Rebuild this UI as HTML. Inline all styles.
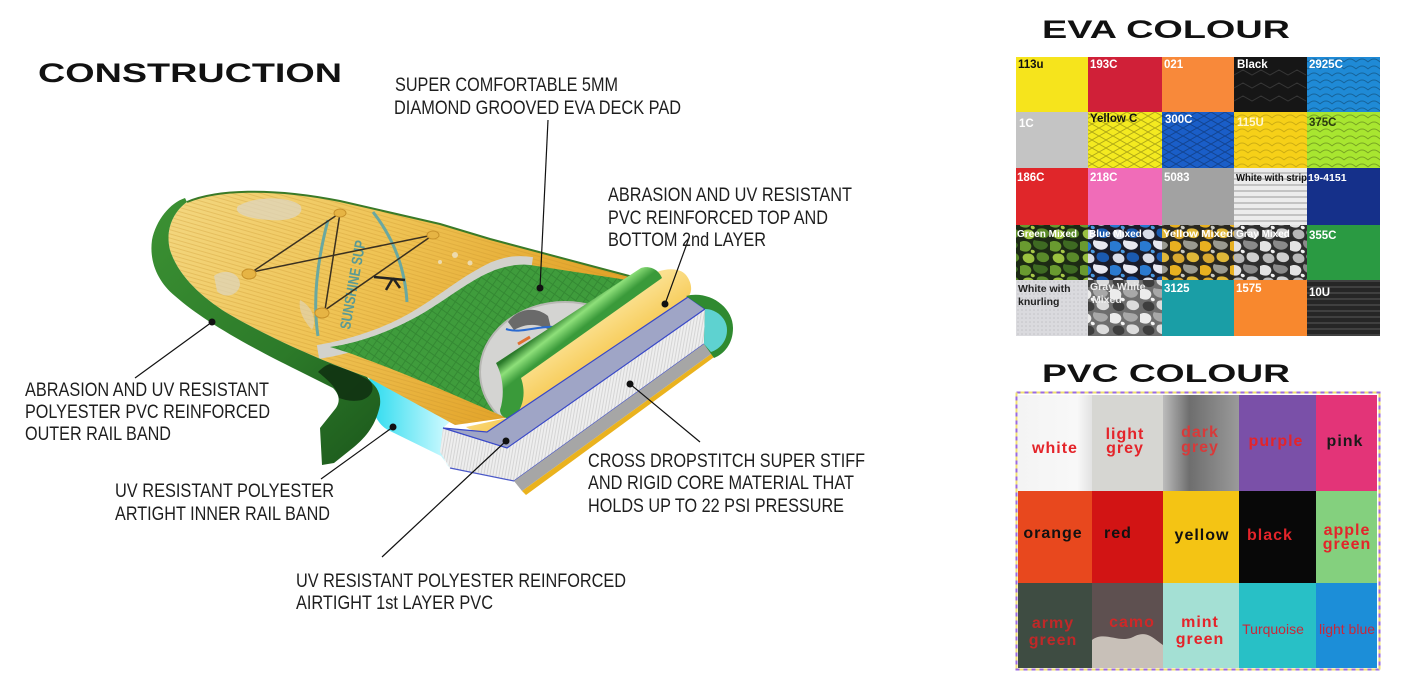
<!DOCTYPE html>
<html><head><meta charset="utf-8"><style>
html,body{margin:0;padding:0;background:#fff;}
svg{display:block;}
.l{font-family:"Liberation Sans Narrow","Liberation Sans",Arial,sans-serif;font-size:19px;fill:#1e1e1e;}
.h{font-family:"Liberation Sans",Arial,sans-serif;font-weight:bold;fill:#111;}
.e{font-family:"Liberation Sans",Arial,sans-serif;font-weight:bold;font-size:11.5px;fill:#fff;}
.p{font-family:"Liberation Sans",Arial,sans-serif;font-weight:bold;font-size:16px;fill:#e4242a;letter-spacing:1px;text-anchor:middle;}
.q{font-family:"Liberation Sans",Arial,sans-serif;font-size:14px;fill:#c8283a;text-anchor:middle;}
</style></head><body>
<svg width="1427" height="693" viewBox="0 0 1427 693" xmlns="http://www.w3.org/2000/svg">
<defs>
 <linearGradient id="deckG" x1="180" y1="200" x2="500" y2="420" gradientUnits="userSpaceOnUse">
  <stop offset="0" stop-color="#f3d67e"/><stop offset="0.5" stop-color="#efc354"/><stop offset="1" stop-color="#e3a42a"/>
 </linearGradient>
 <pattern id="deckL" width="300" height="4" patternUnits="userSpaceOnUse" patternTransform="rotate(16)">
  <line x1="0" y1="2" x2="300" y2="2" stroke="#c8922a" stroke-opacity="0.3" stroke-width="1"/>
 </pattern>
 <linearGradient id="railG" x1="160" y1="220" x2="370" y2="440" gradientUnits="userSpaceOnUse">
  <stop offset="0" stop-color="#3a8f32"/><stop offset="0.6" stop-color="#2c7a29"/><stop offset="1" stop-color="#1f5e1e"/>
 </linearGradient>
 <linearGradient id="cyanG" x1="372" y1="0" x2="450" y2="0" gradientUnits="userSpaceOnUse">
  <stop offset="0" stop-color="#30dcef"/><stop offset="1" stop-color="#d2faff"/>
 </linearGradient>
 <pattern id="padP" width="7" height="7" patternUnits="userSpaceOnUse" patternTransform="rotate(35)">
  <rect width="7" height="7" fill="none" stroke="#2c7a2c" stroke-opacity="0.55" stroke-width="1"/>
 </pattern>
 <clipPath id="padClip">
  <path d="M330,347 C360,343 395,330 425,312 C450,297 470,280 495,270 C510,265 520,264 530,265 L640,282 L650,276 L500,362 C506,378 510,398 507,418 C470,402 410,375 360,357 C350,353 340,350 330,347 Z"/>
 </clipPath>
 <linearGradient id="rollG" x1="566" y1="312" x2="580" y2="330" gradientUnits="userSpaceOnUse">
  <stop offset="0" stop-color="#2a7a2a"/><stop offset="0.45" stop-color="#8ee07a"/><stop offset="1" stop-color="#3a9a3a"/>
 </linearGradient>
 <linearGradient id="yelG" x1="580" y1="330" x2="600" y2="360" gradientUnits="userSpaceOnUse">
  <stop offset="0" stop-color="#fbe08e"/><stop offset="1" stop-color="#f7cc5a"/>
 </linearGradient>
 <pattern id="coreP" width="3" height="10" patternUnits="userSpaceOnUse" patternTransform="rotate(10)">
  <rect width="3" height="10" fill="#eeeeee"/><line x1="1" y1="0" x2="1" y2="10" stroke="#cfcfcf" stroke-width="0.8"/>
 </pattern>
 <pattern id="dia" width="14" height="8" patternUnits="userSpaceOnUse">
  <path d="M0,4 L7,0 L14,4 L7,8 Z" fill="none" stroke="#000" stroke-opacity="0.28" stroke-width="1"/>
 </pattern>
 <pattern id="wav" width="12" height="7" patternUnits="userSpaceOnUse">
  <path d="M0,6 Q6,0 12,6" fill="none" stroke="#000" stroke-opacity="0.28" stroke-width="1"/>
 </pattern>
 <pattern id="strip" width="10" height="6" patternUnits="userSpaceOnUse">
  <rect width="10" height="6" fill="#ececec"/><line x1="0" y1="5" x2="10" y2="5" stroke="#9a9a9a" stroke-width="1"/>
 </pattern>
 <pattern id="u10" width="10" height="6" patternUnits="userSpaceOnUse">
  <rect width="10" height="6" fill="#262626"/><line x1="0" y1="5" x2="10" y2="5" stroke="#505050" stroke-width="1.2"/>
 </pattern>
 <pattern id="knurl" width="4" height="4" patternUnits="userSpaceOnUse">
  <rect width="4" height="4" fill="#dadade"/><circle cx="2" cy="2" r="0.8" fill="#c4c4c8"/>
 </pattern>
 <pattern id="camoG" width="30" height="24" patternUnits="userSpaceOnUse">
  <rect width="30" height="24" fill="#1c2a14"/>
  <path d="M0,2 C6,-1 13,3 11,8 C9,13 3,12 0,10 Z" fill="#6a9a30"/>
  <path d="M14,0 C20,2 26,0 28,5 C27,10 20,11 16,8 C13,6 12,2 14,0 Z" fill="#3e6a22"/>
  <path d="M5,14 C11,12 16,16 14,21 C11,25 4,23 3,19 C2,17 3,15 5,14 Z" fill="#9ac040"/>
  <path d="M18,13 C24,11 30,14 29,19 C27,23 21,23 18,20 C16,18 16,15 18,13 Z" fill="#5a8a2a"/>
  <path d="M11,10 C14,9 16,12 14,13 C12,14 10,12 11,10 Z" fill="#a8c848"/>
 </pattern>
 <pattern id="camoB" width="30" height="24" patternUnits="userSpaceOnUse">
  <rect width="30" height="24" fill="#1a1c2a"/>
  <path d="M0,2 C6,-1 13,3 11,8 C9,13 3,12 0,10 Z" fill="#2a7ad0"/>
  <path d="M14,0 C20,2 26,0 28,5 C27,10 20,11 16,8 C13,6 12,2 14,0 Z" fill="#e8e8f0"/>
  <path d="M5,14 C11,12 16,16 14,21 C11,25 4,23 3,19 C2,17 3,15 5,14 Z" fill="#d8dce8"/>
  <path d="M18,13 C24,11 30,14 29,19 C27,23 21,23 18,20 C16,18 16,15 18,13 Z" fill="#1a5ab0"/>
  <path d="M11,10 C14,9 16,12 14,13 C12,14 10,12 11,10 Z" fill="#4a9ae0"/>
 </pattern>
 <pattern id="camoY" width="30" height="24" patternUnits="userSpaceOnUse">
  <rect width="30" height="24" fill="#2a2820"/>
  <path d="M0,2 C6,-1 13,3 11,8 C9,13 3,12 0,10 Z" fill="#e8b020"/>
  <path d="M14,0 C20,2 26,0 28,5 C27,10 20,11 16,8 C13,6 12,2 14,0 Z" fill="#9a9a90"/>
  <path d="M5,14 C11,12 16,16 14,21 C11,25 4,23 3,19 C2,17 3,15 5,14 Z" fill="#d8a830"/>
  <path d="M18,13 C24,11 30,14 29,19 C27,23 21,23 18,20 C16,18 16,15 18,13 Z" fill="#e0b838"/>
  <path d="M11,10 C14,9 16,12 14,13 C12,14 10,12 11,10 Z" fill="#c8c8c0"/>
 </pattern>
 <pattern id="camoK" width="30" height="24" patternUnits="userSpaceOnUse">
  <rect width="30" height="24" fill="#2e2e2e"/>
  <path d="M0,2 C6,-1 13,3 11,8 C9,13 3,12 0,10 Z" fill="#e2e2e2"/>
  <path d="M14,0 C20,2 26,0 28,5 C27,10 20,11 16,8 C13,6 12,2 14,0 Z" fill="#8a8a8a"/>
  <path d="M5,14 C11,12 16,16 14,21 C11,25 4,23 3,19 C2,17 3,15 5,14 Z" fill="#b8b8b8"/>
  <path d="M18,13 C24,11 30,14 29,19 C27,23 21,23 18,20 C16,18 16,15 18,13 Z" fill="#d0d0d0"/>
  <path d="M11,10 C14,9 16,12 14,13 C12,14 10,12 11,10 Z" fill="#f0f0f0"/>
 </pattern>
 <pattern id="camoW" width="30" height="24" patternUnits="userSpaceOnUse">
  <rect width="30" height="24" fill="#6e6e6e"/>
  <path d="M0,2 C6,-1 13,3 11,8 C9,13 3,12 0,10 Z" fill="#ececec"/>
  <path d="M14,0 C20,2 26,0 28,5 C27,10 20,11 16,8 C13,6 12,2 14,0 Z" fill="#a8a8a8"/>
  <path d="M5,14 C11,12 16,16 14,21 C11,25 4,23 3,19 C2,17 3,15 5,14 Z" fill="#3e3e3e"/>
  <path d="M18,13 C24,11 30,14 29,19 C27,23 21,23 18,20 C16,18 16,15 18,13 Z" fill="#dcdcdc"/>
  <path d="M11,10 C14,9 16,12 14,13 C12,14 10,12 11,10 Z" fill="#f4f4f4"/>
 </pattern>
 <linearGradient id="pW" x1="0" x2="1"><stop offset="0" stop-color="#f4f4f4"/><stop offset="0.8" stop-color="#f8f8f8"/><stop offset="1" stop-color="#e2e2e2"/></linearGradient>
 <linearGradient id="pDG" x1="0" x2="1"><stop offset="0" stop-color="#bcbcbc"/><stop offset="0.35" stop-color="#6e6e6e"/><stop offset="1" stop-color="#9a9a9a"/></linearGradient>
</defs>

<rect width="1427" height="693" fill="#fff"/>

<text class="h" x="38" y="82" font-size="27" textLength="304" lengthAdjust="spacingAndGlyphs">CONSTRUCTION</text>
<text class="h" x="1042" y="38" font-size="25" textLength="248" lengthAdjust="spacingAndGlyphs">EVA COLOUR</text>
<text class="h" x="1042" y="382" font-size="25" textLength="248" lengthAdjust="spacingAndGlyphs">PVC COLOUR</text>

<!-- ===== BOARD ===== -->
<path d="M370,372 L452,420 L443,428 C440,442 442,462 450,468 L441,456 L388,430 C374,423 366,398 370,372 Z" fill="url(#cyanG)"/>
<path d="M187,202 C215,190 270,187 340,201 L440,224 L490,239 L633,277 L650,283 L520,378 L505,418 L455,425 L367,377 C330,364 273,340 227,313 C200,296 178,275 170,250 C165,230 173,212 187,202 Z" fill="url(#deckG)"/>
<path d="M187,202 C215,190 270,187 340,201 L440,224 L490,239 L633,277 L650,283 L520,378 L505,418 L455,425 L367,377 C330,364 273,340 227,313 C200,296 178,275 170,250 C165,230 173,212 187,202 Z" fill="url(#deckL)"/>
<path d="M187,202 C215,190 270,187 340,201 L440,224 L490,239 L633,277" fill="none" stroke="#3a7a28" stroke-width="2"/>
<path d="M238,206 C255,196 288,196 300,205 C306,214 292,222 270,220 C250,219 232,214 238,206 Z" fill="#ddd6c0" opacity="0.75"/>
<path d="M214,276 C224,268 240,272 240,285 C238,296 224,299 217,291 Z" fill="#ddd6c0" opacity="0.7"/>
<path d="M300,300 C310,305 318,318 312,330 C305,322 298,312 300,300 Z" fill="#ddd6c0" opacity="0.6"/>
<circle cx="455" cy="255" r="3" fill="#eee3c8" opacity="0.8"/>
<circle cx="470" cy="263" r="2.5" fill="#eee3c8" opacity="0.8"/>
<circle cx="440" cy="262" r="2" fill="#eee3c8" opacity="0.8"/>
<path d="M328,220 C318,258 312,298 318,336" fill="none" stroke="#6aa8a0" stroke-width="3"/>
<path d="M373,212 C395,240 405,270 407,302" fill="none" stroke="#6aa8a0" stroke-width="3"/>
<text x="0" y="0" transform="translate(350,330) rotate(-80)" font-family="'Liberation Sans',Arial,sans-serif" font-weight="bold" font-size="15" fill="#5a9a94" textLength="90" lengthAdjust="spacingAndGlyphs">SUNSHINE SUP</text>
<g stroke="#3a3020" stroke-width="1.5" fill="none">
 <line x1="340" y1="213" x2="252" y2="272"/>
 <line x1="340" y1="213" x2="325" y2="310"/>
 <line x1="433" y1="235" x2="252" y2="272"/>
 <line x1="433" y1="235" x2="325" y2="310"/>
</g>
<g fill="#e6b444" stroke="#c8922a" stroke-width="1">
 <ellipse cx="340" cy="213" rx="6" ry="4"/>
 <ellipse cx="433" cy="235" rx="6" ry="4"/>
 <ellipse cx="249" cy="274" rx="7" ry="5"/>
 <ellipse cx="322" cy="313" rx="7" ry="5"/>
</g>
<path d="M374,277 L405,280 M393,278 L386,290 M393,278 L400,288" stroke="#222" stroke-width="2.5" fill="none"/>

<path d="M318,352 C355,346 392,333 422,314 C448,298 468,281 493,269 C508,263 518,262 532,264" fill="none" stroke="#d2d2cc" stroke-width="14"/>
<path d="M330,347 C360,343 395,330 425,312 C450,297 470,280 495,270 C510,265 520,264 530,265 L640,282 L650,276 L500,362 C506,378 510,398 507,418 C470,402 410,375 360,357 C350,353 340,350 330,347 Z" fill="#3f9c3c"/>
<g clip-path="url(#padClip)">
 <rect x="320" y="250" width="340" height="180" fill="url(#padP)"/>
 <ellipse cx="565" cy="372" rx="85" ry="70" fill="#d4d4d2"/>
 <ellipse cx="565" cy="372" rx="85" ry="70" fill="none" stroke="#b8b8b4" stroke-width="2"/>
</g>
<path d="M508,322 C518,308 536,306 548,316 L552,332 C542,324 528,322 514,330 Z" fill="#6a6a6a"/>
<path d="M506,329 C520,334 536,326 554,327" fill="none" stroke="#2a6ad0" stroke-width="2"/>
<path d="M518,344 L530,337" stroke="#e07030" stroke-width="3"/>

<path d="M657,272 C668,268 680,268 686,275 C693,284 692,293 688,297 L487,433 C478,432 470,430 466,427 L507,418 C518,408 524,393 521,378 Z" fill="url(#yelG)"/>
<path d="M641,268 C650,265 659,270 662,278 L521,378 C526,392 524,408 513,418 C506,420 500,416 500,410 C505,395 503,376 496,363 Z" fill="url(#rollG)"/>

<path d="M443,428 L507,448 L705,309 L704,344 L514,481 L450,468 L440,452 Z" fill="url(#coreP)"/>
<path d="M443,428 L487,432 L688,297 L705,309 L507,448 Z" fill="#9fa5c6" stroke="#3848c8" stroke-width="1.2"/>
<path d="M450,468 L514,481 L704,344" fill="none" stroke="#4a58c8" stroke-width="1.2"/>
<path d="M514,481 L704,344 L718,349 L522,491 Z" fill="#a6a6a6"/>
<path d="M522,491 L718,349 L721,352 L526,495 Z" fill="#eab21e"/>
<path d="M686,296 C708,290 733,306 733,328 C733,344 724,354 714,358 L704,344 L705,309 Z" fill="#2f8a30"/>
<path d="M705,309 C716,309 727,318 727,330 C727,341 720,349 711,352 L704,344 Z" fill="#5ed2d0"/>

<path d="M185,198 C170,203 156,220 152,240 C149,262 158,282 175,296 C200,318 240,342 297,370 L333,388 C340,395 340,402 336,408 L320,428 L322,465 L334,463 L354,447 C366,437 376,425 380,405 C381,395 378,388 371,382 L367,377 C330,364 273,340 227,313 C200,296 178,275 170,250 C165,230 173,212 187,202 Z" fill="url(#railG)"/>
<path d="M330,364 C346,369 362,375 371,382 C375,390 371,397 362,400 C352,402 345,400 339,398 C337,390 333,384 318,372 C322,368 326,365 330,364 Z" fill="#0f2f10" opacity="0.85"/>

<g stroke="#111" stroke-width="1.2" fill="none">
 <line x1="548" y1="120" x2="540" y2="288"/>
 <line x1="689" y1="238" x2="665" y2="304"/>
 <line x1="212" y1="322" x2="135" y2="378"/>
 <line x1="393" y1="427" x2="321" y2="479"/>
 <line x1="506" y1="441" x2="382" y2="557"/>
 <line x1="630" y1="384" x2="700" y2="442"/>
</g>
<g fill="#111">
 <circle cx="540" cy="288" r="3.5"/>
 <circle cx="665" cy="304" r="3.5"/>
 <circle cx="212" cy="322" r="3.5"/>
 <circle cx="393" cy="427" r="3.5"/>
 <circle cx="506" cy="441" r="3.5"/>
 <circle cx="630" cy="384" r="3.5"/>
</g>

<text class="l" x="395" y="91" textLength="223" lengthAdjust="spacingAndGlyphs">SUPER COMFORTABLE 5MM</text>
<text class="l" x="394" y="114" textLength="287" lengthAdjust="spacingAndGlyphs">DIAMOND GROOVED EVA DECK PAD</text>
<text class="l" x="608" y="201" textLength="244" lengthAdjust="spacingAndGlyphs">ABRASION AND UV RESISTANT</text>
<text class="l" x="608" y="224" textLength="220" lengthAdjust="spacingAndGlyphs">PVC REINFORCED TOP AND</text>
<text class="l" x="608" y="246" textLength="158" lengthAdjust="spacingAndGlyphs">BOTTOM 2nd LAYER</text>
<text class="l" x="25" y="396" textLength="244" lengthAdjust="spacingAndGlyphs">ABRASION AND UV RESISTANT</text>
<text class="l" x="25" y="418" textLength="245" lengthAdjust="spacingAndGlyphs">POLYESTER PVC REINFORCED</text>
<text class="l" x="25" y="440" textLength="146" lengthAdjust="spacingAndGlyphs">OUTER RAIL BAND</text>
<text class="l" x="115" y="497" textLength="219" lengthAdjust="spacingAndGlyphs">UV RESISTANT POLYESTER</text>
<text class="l" x="115" y="520" textLength="215" lengthAdjust="spacingAndGlyphs">ARTIGHT INNER RAIL BAND</text>
<text class="l" x="588" y="467" textLength="277" lengthAdjust="spacingAndGlyphs">CROSS DROPSTITCH SUPER STIFF</text>
<text class="l" x="588" y="489" textLength="266" lengthAdjust="spacingAndGlyphs">AND RIGID CORE MATERIAL THAT</text>
<text class="l" x="588" y="512" textLength="256" lengthAdjust="spacingAndGlyphs">HOLDS UP TO 22 PSI PRESSURE</text>
<text class="l" x="296" y="587" textLength="330" lengthAdjust="spacingAndGlyphs">UV RESISTANT POLYESTER REINFORCED</text>
<text class="l" x="296" y="609" textLength="197" lengthAdjust="spacingAndGlyphs">AIRTIGHT 1st LAYER PVC</text>

<!-- ===== EVA GRID ===== -->
<g>
 <rect x="1016" y="57" width="72" height="55" fill="#f6e41c"/>
 <rect x="1088" y="57" width="74" height="55" fill="#d02038"/>
 <rect x="1162" y="57" width="72" height="55" fill="#f8893a"/>
 <rect x="1234" y="57" width="73" height="55" fill="#161616"/>
 <rect x="1307" y="57" width="73" height="55" fill="#1f8ad6"/>
 <rect x="1307" y="57" width="73" height="55" fill="url(#wav)"/>
 <g stroke="#3a3a3a" stroke-width="1" fill="none" opacity="0.9">
  <path d="M1234,75 l9,-5 l9,5 l9,-5 l9,5 l9,-5 l9,5 l9,-5 l9,5"/>
  <path d="M1234,88 l9,-5 l9,5 l9,-5 l9,5 l9,-5 l9,5 l9,-5 l9,5"/>
  <path d="M1234,101 l9,-5 l9,5 l9,-5 l9,5 l9,-5 l9,5 l9,-5 l9,5"/>
 </g>
 <rect x="1016" y="112" width="72" height="56" fill="#c4c4c4"/>
 <rect x="1088" y="112" width="74" height="56" fill="#f4ea20"/>
 <rect x="1088" y="112" width="74" height="56" fill="url(#dia)"/>
 <rect x="1162" y="112" width="72" height="56" fill="#1a5ec8"/>
 <rect x="1162" y="112" width="72" height="56" fill="url(#dia)"/>
 <rect x="1234" y="112" width="73" height="56" fill="#f6d018"/>
 <rect x="1234" y="112" width="73" height="56" fill="url(#wav)" opacity="0.6"/>
 <rect x="1307" y="112" width="73" height="56" fill="#a8e630"/>
 <rect x="1307" y="112" width="73" height="56" fill="url(#wav)"/>
 <rect x="1016" y="168" width="72" height="57" fill="#e0262a"/>
 <rect x="1088" y="168" width="74" height="57" fill="#f06cb8"/>
 <rect x="1162" y="168" width="72" height="57" fill="#a2a2a2"/>
 <rect x="1234" y="168" width="73" height="57" fill="url(#strip)"/>
 <rect x="1307" y="168" width="73" height="57" fill="#15308a"/>
 <rect x="1016" y="225" width="72" height="55" fill="url(#camoG)"/>
 <rect x="1088" y="225" width="74" height="55" fill="url(#camoB)"/>
 <rect x="1162" y="225" width="72" height="55" fill="url(#camoY)"/>
 <rect x="1234" y="225" width="73" height="55" fill="url(#camoK)"/>
 <rect x="1307" y="225" width="73" height="55" fill="#2a9a42"/>
 <rect x="1016" y="280" width="72" height="56" fill="url(#knurl)"/>
 <rect x="1088" y="280" width="74" height="56" fill="url(#camoW)"/>
 <rect x="1162" y="280" width="72" height="56" fill="#1a9ea6"/>
 <rect x="1234" y="280" width="73" height="56" fill="#f8882e"/>
 <rect x="1307" y="280" width="73" height="56" fill="url(#u10)"/>
</g>
<g>
 <text class="e" x="1018" y="68" style="fill:#111">113u</text>
 <text class="e" x="1090" y="68">193C</text>
 <text class="e" x="1164" y="68">021</text>
 <text class="e" x="1237" y="68">Black</text>
 <text class="e" x="1309" y="68">2925C</text>
 <text class="e" x="1019" y="127">1C</text>
 <text class="e" x="1090" y="122" style="fill:#111">Yellow C</text>
 <text class="e" x="1165" y="123">300C</text>
 <text class="e" x="1237" y="126" style="fill:#fff7d0">115U</text>
 <text class="e" x="1309" y="126" style="fill:#2a3a10">375C</text>
 <text class="e" x="1017" y="181">186C</text>
 <text class="e" x="1090" y="181">218C</text>
 <text class="e" x="1164" y="181">5083</text>
 <text class="e" x="1236" y="181" style="fill:#111;font-size:10px" textLength="71" lengthAdjust="spacingAndGlyphs">White with strip</text>
 <text class="e" x="1308" y="181" style="font-size:10.5px">19-4151</text>
 <text class="e" x="1017" y="237" style="font-size:10px">Green Mixed</text>
 <text class="e" x="1089" y="237" style="font-size:10px">Blue Mixed</text>
 <text class="e" x="1163" y="237" style="font-size:10px" textLength="70" lengthAdjust="spacingAndGlyphs">Yellow Mixed</text>
 <text class="e" x="1236" y="237" style="font-size:10px">Gray Mixed</text>
 <text class="e" x="1309" y="239">355C</text>
 <text class="e" x="1018" y="292" style="fill:#222;font-size:10.5px">White with</text>
 <text class="e" x="1018" y="305" style="fill:#222;font-size:10.5px">knurling</text>
 <text class="e" x="1090" y="290" style="fill:#eee;font-size:10.5px">Gray White</text>
 <text class="e" x="1092" y="303" style="fill:#eee;font-size:10.5px">Mixed</text>
 <text class="e" x="1164" y="292">3125</text>
 <text class="e" x="1236" y="292">1575</text>
 <text class="e" x="1309" y="296">10U</text>
</g>

<!-- ===== PVC GRID ===== -->
<rect x="1016.5" y="392.5" width="363" height="277" fill="none" stroke="#9a6ae0" stroke-width="2" stroke-dasharray="4 4"/>
<rect x="1016.5" y="392.5" width="363" height="277" fill="none" stroke="#f0e070" stroke-width="2" stroke-dasharray="4 4" stroke-dashoffset="4"/>
<g>
 <rect x="1018" y="395" width="74" height="96" fill="url(#pW)"/>
 <rect x="1092" y="395" width="71" height="96" fill="#d6d6d2"/>
 <rect x="1163" y="395" width="76" height="96" fill="url(#pDG)"/>
 <rect x="1239" y="395" width="77" height="96" fill="#7a50a8"/>
 <rect x="1316" y="395" width="61" height="96" fill="#e33478"/>
 <rect x="1018" y="491" width="74" height="92" fill="#e8481e"/>
 <rect x="1092" y="491" width="71" height="92" fill="#d21414"/>
 <rect x="1163" y="491" width="76" height="92" fill="#f4c414"/>
 <rect x="1239" y="491" width="77" height="92" fill="#080808"/>
 <rect x="1316" y="491" width="61" height="92" fill="#84d07e"/>
 <rect x="1018" y="583" width="74" height="85" fill="#3e4c42"/>
 <rect x="1092" y="583" width="71" height="85" fill="#5e5050"/>
 <path d="M1092,640 C1105,630 1120,645 1135,636 C1148,630 1155,640 1163,645 L1163,668 L1092,668 Z" fill="#c8c0b8"/>
 <rect x="1163" y="583" width="76" height="85" fill="#a4e0d4"/>
 <rect x="1239" y="583" width="77" height="85" fill="#28c0c6"/>
 <rect x="1316" y="583" width="61" height="85" fill="#1c8ed8"/>
</g>
<g>
 <text class="p" x="1055" y="453">white</text>
 <text class="p" x="1125" y="439">light</text>
 <text class="p" x="1125" y="453">grey</text>
 <text class="p" x="1200" y="437" style="fill:#d83a3a">dark</text>
 <text class="p" x="1200" y="452" style="fill:#d83a3a">grey</text>
 <text class="p" x="1276" y="446">purple</text>
 <text class="p" x="1345" y="446" style="fill:#1a1a1a">pink</text>
 <text class="p" x="1053" y="538" style="fill:#111">orange</text>
 <text class="p" x="1118" y="538" style="fill:#111">red</text>
 <text class="p" x="1202" y="540" style="fill:#111">yellow</text>
 <text class="p" x="1270" y="540">black</text>
 <text class="p" x="1347" y="535">apple</text>
 <text class="p" x="1347" y="549">green</text>
 <text class="p" x="1053" y="628" style="fill:#c02828">army</text>
 <text class="p" x="1053" y="645" style="fill:#c02828">green</text>
 <text class="p" x="1132" y="627" style="fill:#d02828">camo</text>
 <text class="p" x="1200" y="627">mint</text>
 <text class="p" x="1200" y="644">green</text>
 <text class="q" x="1273" y="634">Turquoise</text>
 <text class="q" x="1347" y="634">light blue</text>
</g>
</svg>
</body></html>
